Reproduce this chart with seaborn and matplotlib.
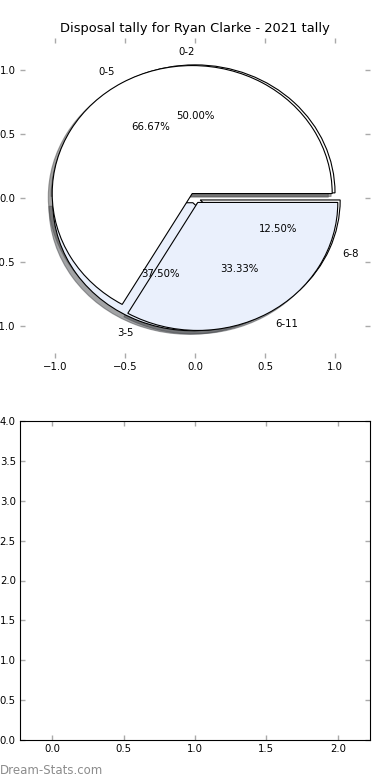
import matplotlib
matplotlib.use("Agg")
import matplotlib.pyplot as plt
import seaborn as sns
import numpy as np

# ---- data ----
title = "Disposal tally for Ryan Clarke - 2021 tally"
labels_a = ["0-2", "3-5", "6-8"]
values_a = [4, 3, 1]
labels_b = ["0-5", "6-11"]
values_b = [2, 1]
pie_colors = ["white", "#eaf0fc"]
explode_a = [0.04, 0.04, 0.04]
explode_b = [0.04, 0.04]
pie_ticks = [-1.0, -0.5, 0.0, 0.5, 1.0]
bottom_xticks = [0.0, 0.5, 1.0, 1.5, 2.0]
bottom_yticks = [0.0, 0.5, 1.0, 1.5, 2.0, 2.5, 3.0, 3.5, 4.0]
watermark = "Dream-Stats.com"

sns.set_style("ticks", rc={
    "xtick.direction": "in", "ytick.direction": "in",
    "axes.edgecolor": "black", "axes.linewidth": 1.0,
    "text.color": "black", "axes.labelcolor": "black",
    "xtick.color": "black", "ytick.color": "black",
})
plt.rcParams["font.family"] = ["DejaVu Sans"]
plt.rcParams["font.size"] = 7.3
plt.rcParams["axes.unicode_minus"] = True

fig = plt.figure(figsize=(3.9, 7.8), dpi=100)
W, H = 390, 780
ax1 = fig.add_axes([20 / W, 1 - 358 / H, 350 / W, 320 / H])
ax2 = fig.add_axes([20 / W, 1 - 740 / H, 350 / W, 319 / H])

wp = dict(edgecolor="black", linewidth=0.8)
tp = dict(fontsize=7.3, color="black")
ax1.pie(values_a, labels=labels_a, explode=explode_a, colors=pie_colors,
        autopct="%1.2f%%", shadow=True, startangle=0, frame=True,
        wedgeprops=wp, textprops=tp)
ax1.pie(values_b, labels=labels_b, explode=explode_b, colors=pie_colors,
        autopct="%1.2f%%", shadow=True, startangle=0, frame=True,
        wedgeprops=wp, textprops=tp)
ax1.set_aspect("auto")
ax1.set_xlim(-1.25, 1.25)
ax1.set_ylim(-1.25, 1.25)
ax1.set_xticks(pie_ticks)
ax1.set_yticks(pie_ticks)
for s in ax1.spines.values():
    s.set_visible(False)
ax1.set_title(title, fontsize=9.4, pad=4, color="black")

ax2.set_xlim(-0.225, 2.225)
ax2.set_ylim(0, 4)
ax2.set_xticks(bottom_xticks)
ax2.set_yticks(bottom_yticks)

for ax in (ax1, ax2):
    ax.tick_params(which="both", direction="in", length=3.5, width=1.0,
                   color="#aaaaaa", labelsize=7.3, pad=3,
                   top=True, right=True, labelcolor="black")

fig.text(0.0, 1 - 770 / H, watermark, fontsize=8.5, color="#8c8c8c",
         ha="left", va="center")

fig.savefig("out.png", dpi=100)
